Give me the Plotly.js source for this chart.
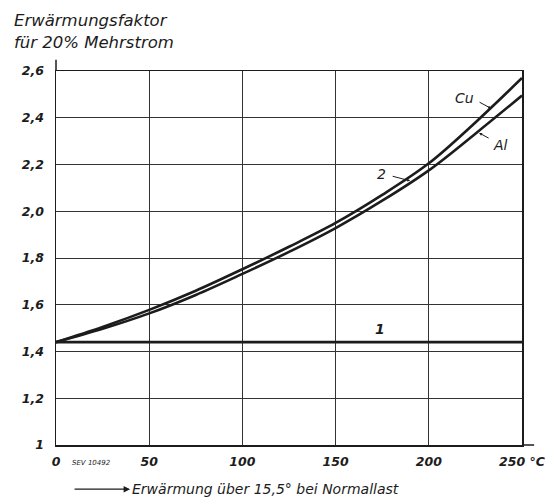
<!DOCTYPE html>
<html>
<head>
<meta charset="utf-8">
<script src="https://cdn.plot.ly/plotly-3.0.1.min.js"></script>
<style>html,body{margin:0;padding:0;background:#fff;}#chart{width:552px;height:502px;}</style>
</head>
<body>
<div id="chart"></div>
<script>
// Data
var temperature = [0, 25, 50, 75, 100, 125, 150, 175, 200, 225, 250];
var factorCu = [1.44, 1.505, 1.578, 1.66, 1.752, 1.848, 1.95, 2.07, 2.205, 2.38, 2.57];
var factorAl = [1.44, 1.497, 1.563, 1.642, 1.732, 1.826, 1.928, 2.045, 2.175, 2.332, 2.495];
var line1X = [0, 250];
var line1Y = [1.44, 1.44];
var xTickVals = [0, 50, 100, 150, 200, 250];
var xTickText = ["0", "50", "100", "150", "200", "250 °C"];
var yTickVals = [1, 1.2, 1.4, 1.6, 1.8, 2.0, 2.2, 2.4, 2.6];
var yTickText = ["1", "1,2", "1,4", "1,6", "1,8", "2,0", "2,2", "2,4", "2,6"];

var ink = "#1c1c1c";
var fam = "DejaVu Sans, sans-serif";

var traces = [
  {x: temperature, y: factorCu, mode: "lines", line: {color: ink, width: 2.6, shape: "spline", smoothing: 1}, hoverinfo: "skip", name: "Cu"},
  {x: temperature, y: factorAl, mode: "lines", line: {color: ink, width: 2.6, shape: "spline", smoothing: 1}, hoverinfo: "skip", name: "Al"},
  {x: line1X, y: line1Y, mode: "lines", line: {color: ink, width: 2.8}, hoverinfo: "skip", name: "1"}
];

var tickFont = {family: fam, size: 12.5, color: ink, style: "italic", weight: "bold"};
var labFont = {family: fam, size: 14, color: ink, style: "italic"};

var layout = {
  width: 552, height: 502,
  margin: {l: 56, r: 30, t: 71, b: 57},
  paper_bgcolor: "#fff", plot_bgcolor: "#fff",
  showlegend: false,
  xaxis: {
    range: [0, 250], tickvals: xTickVals, ticktext: xTickText, ticks: "",
    showgrid: true, gridcolor: "#333", gridwidth: 1, zeroline: false,
    showline: true, linecolor: ink, linewidth: 1.5, mirror: true,
    tickfont: tickFont, ticklabelstandoff: 4
  },
  yaxis: {
    range: [1, 2.6], tickvals: yTickVals, ticktext: yTickText, ticks: "",
    showgrid: true, gridcolor: "#333", gridwidth: 1, zeroline: false,
    showline: true, linecolor: ink, linewidth: 1.5, mirror: true,
    tickfont: tickFont, ticklabelstandoff: 8
  },
  shapes: [
    {type: "line", xref: "paper", yref: "paper", x0: 0, x1: 0, y0: 1, y1: 1.03, line: {color: ink, width: 1.5}},
    {type: "line", xref: "paper", yref: "paper", x0: 1, x1: 1.026, y0: 0, y1: 0, line: {color: ink, width: 1.5}}
  ],
  annotations: [
    {xref: "paper", yref: "paper", x: -0.095, y: 1.136, xanchor: "left", yanchor: "middle", showarrow: false,
     text: "Erwärmungsfaktor", font: {family: fam, size: 16.5, color: ink, style: "italic"}},
    {xref: "paper", yref: "paper", x: -0.095, y: 1.075, xanchor: "left", yanchor: "middle", showarrow: false,
     text: "für 20% Mehrstrom", font: {family: fam, size: 16.5, color: ink, style: "italic"}},
    {xref: "paper", yref: "paper", x: 0.159, y: -0.118, ax: -57, ay: 0, text: "", showarrow: true,
     arrowhead: 2, arrowsize: 1, arrowwidth: 1.3, arrowcolor: ink},
    {xref: "paper", yref: "paper", x: 0.158, y: -0.118, xanchor: "left", yanchor: "middle", showarrow: false,
     text: "Erwärmung über 15,5° bei Normallast", font: {family: fam, size: 14, color: ink, style: "italic"}},
    {xref: "x", yref: "paper", x: 19.3, y: -0.048, xanchor: "center", yanchor: "middle", showarrow: false,
     text: "SEV 10492", font: {family: fam, size: 7, color: ink, style: "italic"}},
    {x: 219.4, y: 2.485, showarrow: false, text: "Cu", font: labFont},
    {x: 233.4, y: 2.44, ax: -13, ay: -7, text: "", showarrow: true, arrowhead: 2, arrowsize: 0.6, arrowwidth: 1, arrowcolor: ink},
    {x: 238.7, y: 2.283, showarrow: false, text: "Al", font: labFont},
    {x: 227, y: 2.335, ax: 11, ay: 6, text: "", showarrow: true, arrowhead: 2, arrowsize: 0.6, arrowwidth: 1, arrowcolor: ink},
    {x: 174.4, y: 2.159, showarrow: false, text: "2", font: labFont},
    {x: 190, y: 2.13, ax: -19, ay: -5, text: "", showarrow: true, arrowhead: 2, arrowsize: 0.6, arrowwidth: 1, arrowcolor: ink},
    {x: 173.8, y: 1.496, showarrow: false, text: "1", font: {family: fam, size: 14, color: ink, style: "italic", weight: "bold"}}
  ]
};

Plotly.newPlot("chart", traces, layout, {displayModeBar: false, staticPlot: true});
</script>
</body>
</html>
